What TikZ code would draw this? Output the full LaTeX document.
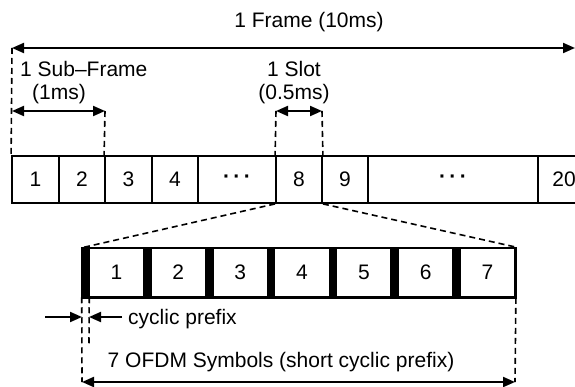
\documentclass[tikz,border=0pt]{standalone}
\usepackage{fontspec}
\setmainfont{Liberation Sans}
\usetikzlibrary{arrows.meta}
\newcommand{\mydots}{{\bfseries\raisebox{0pt}{·\hspace{3.5pt}·\hspace{3.5pt}·}}}
\begin{document}
\begin{tikzpicture}[x=1pt,y=-1pt,
  lbl/.style={font=\fontsize{21}{24}\selectfont, inner sep=0pt, anchor=base},
  dimarrow/.style={line width=2pt, {Triangle[length=12pt,width=10pt]}-{Triangle[length=12pt,width=10pt]}},
  onearrow/.style={line width=2pt, -{Triangle[length=12pt,width=10pt]}},
  guide/.style={line width=1.6pt, dash pattern=on 6pt off 4pt},
  cell/.style={draw, line width=1.8pt, minimum height=47pt, inner sep=0pt, font=\fontsize{21}{24}\selectfont},
  symbox/.style={draw, line width=1.8pt, minimum height=49pt, inner sep=0pt, font=\fontsize{21}{24}\selectfont},
  cpbar/.style={fill=black, draw=black, line width=0.5pt, minimum height=49pt, minimum width=7pt, inner sep=0pt}]
\useasboundingbox (0,0) rectangle (575,387);

% top frame cells
\node[cell, minimum width=47pt] (c1) at (35.5,179.5) {1};
\node[cell, minimum width=46pt] (c2) at (82,179.5) {2};
\node[cell, minimum width=47pt] (c3) at (128.5,179.5) {3};
\node[cell, minimum width=46pt] (c4) at (175,179.5) {4};
\node[cell, minimum width=78pt] (c5) at (237,179.5) {\mydots};
\node[cell, minimum width=46pt] (c8) at (299,179.5) {8};
\node[cell, minimum width=46pt] (c9) at (345,179.5) {9};
\node[cell, minimum width=170pt] (c10) at (453,179.5) {\mydots};
\node[cell, minimum width=52pt] (c20) at (564,179.5) {20};

% frame arrow
\coordinate (fL) at (12,48);
\coordinate (fR) at (575,48);
\draw[dimarrow] (fL) -- (fR);
\node[lbl] (ftxt) at (309,28) {1 Frame (10ms)};
\draw[guide] (fL) -- (c1.north west);

% sub-frame
\coordinate (sfL) at (12,111);
\coordinate (sfR) at (105,111);
\draw[dimarrow] (sfL) -- (sfR);
\draw[guide] (sfR) -- (c3.north west);
\node[lbl, anchor=base west] (sftxt) at (20,77) {1 Sub\textendash Frame};
\node[lbl] (sftxt2) at (59,100) {(1ms)};

% slot
\coordinate (slL) at (276,111);
\coordinate (slR) at (322,111);
\draw[dimarrow] (slL) -- (slR);
\draw[guide] (slL) -- (c8.north west);
\draw[guide] (slR) -- (c8.north east);
\node[lbl] (sltxt) at (294,77) {1 Slot};
\node[lbl] (sltxt2) at (294,100) {(0.5ms)};

% OFDM symbols
\foreach \k [evaluate=\k as \xa using {82+61.857*(\k-1)}] in {1,...,7} {
  \node[symbox, minimum width=54.857pt] (s\k) at ({\xa+7+27.43},272.5) {\k};
  \node[cpbar] (cp\k) at ({\xa+3.5},272.5) {};
}
\draw[line width=1.8pt] (cp1.north west) rectangle (s7.south east);

% zoom lines
\draw[guide] (c8.south west) -- (cp1.north west);
\draw[guide] (c8.south east) -- (s7.north east);

% cyclic prefix
\coordinate (bL) at (82,382);
\coordinate (bR) at (515,382);
\coordinate (cpd) at (89,345);
\draw[guide] (cp1.south west) -- (bL);
\draw[guide] (cp1.south east) -- (cpd);
\draw[guide] (s7.south east) -- (bR);
\coordinate (cpa1) at (45,317);
\coordinate (cpa1e) at (82,317);
\coordinate (cpa2) at (122,317);
\coordinate (cpa2e) at (89,317);
\draw[onearrow] (cpa1) -- (cpa1e);
\draw[onearrow] (cpa2) -- (cpa2e);
\node[lbl, anchor=base west] (cptxt) at (128,324) {cyclic prefix};

% bottom arrow
\draw[dimarrow] (bL) -- (bR);
\node[lbl] (otxt) at (281,367) {7 OFDM Symbols (short cyclic prefix)};
\end{tikzpicture}
\end{document}
